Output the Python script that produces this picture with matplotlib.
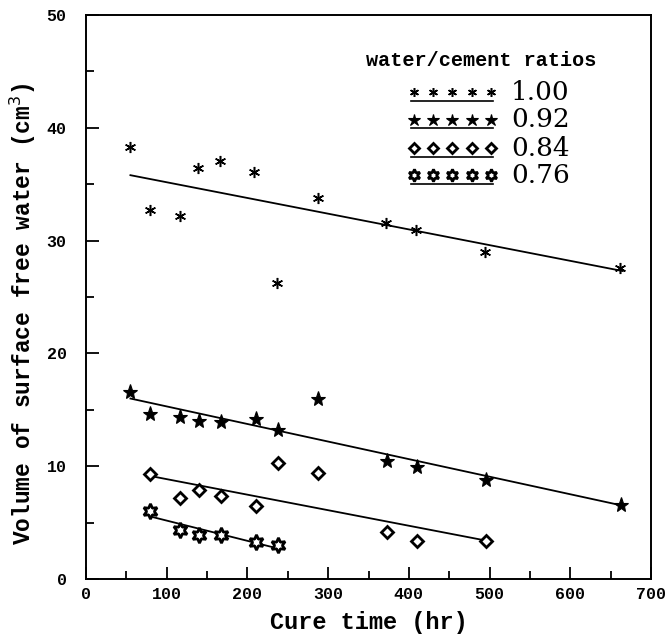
import numpy as np
import matplotlib
matplotlib.use("Agg")
import matplotlib.pyplot as plt
from matplotlib.ticker import MultipleLocator

# ---------------- data ----------------
# w/c = 1.00
x100 = [55, 79, 116, 139, 166, 208, 237, 287, 372, 409, 494, 662]
y100 = [38.3, 32.7, 32.2, 36.4, 37.1, 36.1, 26.2, 33.8, 31.6, 30.9, 29.0, 27.6]
# w/c = 0.92
x092 = [55, 79, 116, 140, 167, 210, 238, 288, 373, 410, 495, 663]
y092 = [16.6, 14.6, 14.4, 14.0, 13.9, 14.2, 13.2, 16.0, 10.5, 9.9, 8.8, 6.6]
# w/c = 0.84
x084 = [79, 116, 140, 167, 210, 238, 288, 373, 410, 496]
y084 = [9.3, 7.2, 7.9, 7.4, 6.5, 10.3, 9.4, 4.2, 3.4, 3.4]
# w/c = 0.76
x076 = [79, 116, 140, 167, 210, 238]
y076 = [6.0, 4.3, 3.9, 3.9, 3.3, 3.0]

# fitted lines (end points as drawn)
fit100_x = [55, 665]
fit100_y = [35.8, 27.3]
fit092_x = [55, 665]
fit092_y = [16.0, 6.5]
fit084_x = [82, 496]
fit084_y = [9.1, 3.4]
fit076_x = [82, 238]
fit076_y = [5.5, 2.7]

labels = ["1.00", "0.92", "0.84", "0.76"]

# marker styles
star6_thin = (6, 2, 0)
star6_open = (6, 1, 0)
styles = [
    dict(marker=star6_thin, ms=8, mfc="black", mec="black", mew=1.1),
    dict(marker="*", ms=11, mfc="black", mec="black", mew=0.8),
    dict(marker="D", ms=6.5, mfc="white", mec="black", mew=2.0),
    dict(marker=star6_open, ms=11, mfc="white", mec="black", mew=2.0),
]

xs = [x100, x092, x084, x076]
ys = [y100, y092, y084, y076]
fx = [fit100_x, fit092_x, fit084_x, fit076_x]
fy = [fit100_y, fit092_y, fit084_y, fit076_y]

fig = plt.figure(figsize=(6.69, 6.39), dpi=100)
ax = fig.add_axes([0.1286, 0.0939, 0.8445, 0.8826])

for i in range(4):
    ax.plot(fx[i], fy[i], color="black", lw=1.3)
    ax.plot(xs[i], ys[i], ls="none", **styles[i])

ax.set_xlim(0, 700)
ax.set_ylim(0, 50)
ax.xaxis.set_major_locator(MultipleLocator(100))
ax.xaxis.set_minor_locator(MultipleLocator(50))
ax.yaxis.set_major_locator(MultipleLocator(10))
ax.yaxis.set_minor_locator(MultipleLocator(5))
ax.tick_params(which="both", direction="in", width=1.3, top=False, right=False)
ax.tick_params(which="major", length=9)
ax.tick_params(which="minor", length=6)
ax.tick_params(axis="x", pad=6)
ax.tick_params(axis="y", pad=14)
for s in ax.spines.values():
    s.set_linewidth(1.4)

for lab in ax.get_xticklabels() + ax.get_yticklabels():
    lab.set_family("Liberation Mono")
    lab.set_fontweight("bold")
    lab.set_fontsize(12)

ax.set_xlabel("Cure time (hr)", family="Liberation Mono", fontweight="bold",
              fontsize=17, labelpad=6)
ax.set_ylabel("Volume of surface free water (cm$^3$)", family="Liberation Mono",
              fontweight="bold", fontsize=16.5, labelpad=8)
ax.yaxis.set_label_coords(-0.085, 0.47)

# ---------------- legend, drawn by hand ----------------
ax.text(0.70, 0.920, "water/cement ratios", transform=ax.transAxes,
        family="Liberation Mono", fontweight="bold", fontsize=14.5,
        ha="center", va="center")
row_y = [0.863, 0.814, 0.764, 0.716]
hx = np.linspace(0.580, 0.717, 5)
for i in range(4):
    st = dict(styles[i])
    st["ms"] = st["ms"] * 0.8
    ax.plot(hx, [row_y[i]] * 5, ls="none", transform=ax.transAxes, clip_on=False, **st)
    ax.plot([0.575, 0.720], [row_y[i] - 0.015] * 2, color="black", lw=1.2,
            transform=ax.transAxes)
    ax.text(0.752, row_y[i], labels[i], transform=ax.transAxes,
            family="DejaVu Serif", fontsize=19, ha="left", va="center")

fig.savefig("out.png", dpi=100)
